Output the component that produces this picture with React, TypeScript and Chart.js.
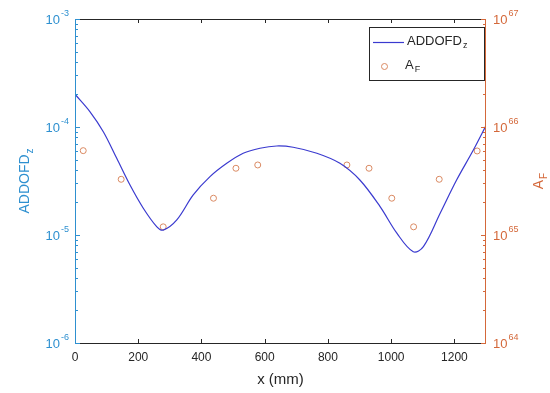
import React, { useEffect, useRef } from "react";
import { Chart, registerables } from "chart.js";
Chart.register(...registerables);

const curveX = [0, 47, 90, 132, 174, 216, 259, 279, 322, 374, 427, 480, 532, 585, 638, 690, 765, 838, 901, 965, 1018, 1070, 1102, 1155, 1207, 1260, 1300];
const curveY = [2.01e-4, 1.39e-4, 9.0e-5, 5.13e-5, 2.9e-5, 1.77e-5, 1.19e-5, 1.11e-5, 1.38e-5, 2.35e-5, 3.47e-5, 4.61e-5, 5.71e-5, 6.36e-5, 6.67e-5, 6.49e-5, 5.71e-5, 4.61e-5, 3.23e-5, 1.83e-5, 1.04e-5, 7.0e-6, 7.8e-6, 1.59e-5, 3.23e-5, 6.12e-5, 1.03e-4];
const markerX = [26, 146, 279, 438, 509, 578, 860, 930, 1002, 1071, 1152, 1272];
const markerY = [6.04e65, 3.28e65, 1.19e65, 2.19e65, 4.15e65, 4.45e65, 4.45e65, 4.15e65, 2.19e65, 1.19e65, 3.28e65, 6.0e65];
const xTicks = [0, 200, 400, 600, 800, 1000, 1200];
const leftExps = [-6, -5, -4, -3];
const rightExps = [64, 65, 66, 67];
const xTitle = "x (mm)";
const leftTitle = ["ADDOFD", "z"];
const rightTitle = ["A", "F"];
const legendLine = ["ADDOFD", "z"];
const legendMarker = ["A", "F"];

const FONT = "'Liberation Sans', Arial, Helvetica, sans-serif";
const LEFT_C = "#2E90D0";
const RIGHT_C = "#D4683A";
const AX_C = "#262626";
const LINE_C = "#3A3ACF";
const MARK_C = "#DA8A63";

function drawPow(ctx: CanvasRenderingContext2D, exp: number, x: number, y: number, align: "left" | "right", color: string) {
  ctx.save();
  ctx.fillStyle = color;
  ctx.textBaseline = "middle";
  ctx.textAlign = "left";
  ctx.font = `13px ${FONT}`;
  const wb = ctx.measureText("10").width;
  ctx.font = `9px ${FONT}`;
  const es = String(exp);
  const we = ctx.measureText(es).width;
  const x0 = align === "right" ? x - wb - we - 1 : x;
  ctx.font = `13px ${FONT}`;
  ctx.fillText("10", x0, y + 1);
  ctx.font = `9px ${FONT}`;
  ctx.fillText(es, x0 + wb + 1, y - 5);
  ctx.restore();
}

function drawSub(ctx: CanvasRenderingContext2D, parts: string[], x: number, y: number, size: number, color: string, center: boolean) {
  ctx.save();
  ctx.fillStyle = color;
  ctx.textBaseline = "middle";
  ctx.textAlign = "left";
  ctx.font = `${size}px ${FONT}`;
  const w1 = ctx.measureText(parts[0]).width;
  ctx.font = `${Math.round(size * 0.68)}px ${FONT}`;
  const w2 = ctx.measureText(parts[1]).width;
  const x0 = center ? x - (w1 + w2 + 1) / 2 : x;
  ctx.font = `${size}px ${FONT}`;
  ctx.fillText(parts[0], x0, y);
  ctx.font = `${Math.round(size * 0.68)}px ${FONT}`;
  ctx.fillText(parts[1], x0 + w1 + 1, y + size * 0.35);
  ctx.restore();
}

const axesPlugin = {
  id: "matlabAxes",
  afterDraw(chart: any) {
    const ctx: CanvasRenderingContext2D = chart.ctx;
    const { left, right, top, bottom } = chart.chartArea;
    const sx = chart.scales.x;
    const sy = chart.scales.y;
    const sy2 = chart.scales.y2;
    ctx.save();
    ctx.lineWidth = 1;
    // box
    ctx.strokeStyle = AX_C;
    ctx.beginPath();
    ctx.moveTo(left, top + 0.5);
    ctx.lineTo(right, top + 0.5);
    ctx.moveTo(left, bottom + 0.5);
    ctx.lineTo(right, bottom + 0.5);
    ctx.stroke();
    // x ticks
    ctx.beginPath();
    xTicks.forEach((v) => {
      const px = Math.round(sx.getPixelForValue(v)) + 0.5;
      ctx.moveTo(px, bottom);
      ctx.lineTo(px, bottom - 4);
      ctx.moveTo(px, top);
      ctx.lineTo(px, top + 4);
    });
    ctx.stroke();
    ctx.fillStyle = AX_C;
    ctx.font = `12px ${FONT}`;
    ctx.textAlign = "center";
    ctx.textBaseline = "middle";
    xTicks.forEach((v) => {
      ctx.fillText(String(v), sx.getPixelForValue(v), bottom + 15);
    });
    ctx.font = `15px ${FONT}`;
    ctx.fillText(xTitle, (left + right) / 2, bottom + 37);

    // left axis
    ctx.strokeStyle = LEFT_C;
    ctx.beginPath();
    ctx.moveTo(left + 0.5, top);
    ctx.lineTo(left + 0.5, bottom + 1);
    for (let e = leftExps[0]; e < leftExps[leftExps.length - 1]; e++) {
      for (let m = 2; m <= 9; m++) {
        const py = Math.round(sy.getPixelForValue(m * Math.pow(10, e))) + 0.5;
        ctx.moveTo(left, py);
        ctx.lineTo(left + 3, py);
      }
    }
    leftExps.forEach((e) => {
      const py = Math.round(sy.getPixelForValue(Math.pow(10, e))) + 0.5;
      ctx.moveTo(left, py);
      ctx.lineTo(left + 5, py);
    });
    ctx.stroke();
    leftExps.forEach((e) => {
      drawPow(ctx, e, left - 6, sy.getPixelForValue(Math.pow(10, e)), "right", LEFT_C);
    });
    ctx.save();
    ctx.translate(25, (top + bottom) / 2);
    ctx.rotate(-Math.PI / 2);
    drawSub(ctx, leftTitle, 0, 0, 14, LEFT_C, true);
    ctx.restore();

    // right axis
    ctx.strokeStyle = RIGHT_C;
    ctx.beginPath();
    ctx.moveTo(right - 0.5, top);
    ctx.lineTo(right - 0.5, bottom + 1);
    for (let e = rightExps[0]; e < rightExps[rightExps.length - 1]; e++) {
      for (let m = 2; m <= 9; m++) {
        const py = Math.round(sy2.getPixelForValue(m * Math.pow(10, e))) + 0.5;
        ctx.moveTo(right, py);
        ctx.lineTo(right - 3, py);
      }
    }
    rightExps.forEach((e) => {
      const py = Math.round(sy2.getPixelForValue(Math.pow(10, e))) + 0.5;
      ctx.moveTo(right, py);
      ctx.lineTo(right - 5, py);
    });
    ctx.stroke();
    rightExps.forEach((e) => {
      drawPow(ctx, e, right + 7, sy2.getPixelForValue(Math.pow(10, e)), "left", RIGHT_C);
    });
    ctx.save();
    ctx.translate(539, (top + bottom) / 2);
    ctx.rotate(-Math.PI / 2);
    drawSub(ctx, rightTitle, 0, 0, 14, RIGHT_C, true);
    ctx.restore();

    // legend
    const lx = 369.5, ly = 27.5, lw = 115, lh = 53;
    ctx.fillStyle = "#ffffff";
    ctx.fillRect(lx, ly, lw, lh);
    ctx.strokeStyle = AX_C;
    ctx.strokeRect(lx, ly, lw, lh);
    ctx.strokeStyle = LINE_C;
    ctx.lineWidth = 1.2;
    ctx.beginPath();
    ctx.moveTo(373, 42.5);
    ctx.lineTo(404, 42.5);
    ctx.stroke();
    drawSub(ctx, legendLine, 407, 41, 13, AX_C, false);
    ctx.strokeStyle = MARK_C;
    ctx.lineWidth = 1;
    ctx.beginPath();
    ctx.arc(384.5, 66.5, 3, 0, Math.PI * 2);
    ctx.stroke();
    drawSub(ctx, legendMarker, 405, 65, 13, AX_C, false);
    ctx.restore();
  },
};

export default function App() {
  const ref = useRef<HTMLCanvasElement>(null);
  useEffect(() => {
    document.body.style.margin = "0";
    const canvas = ref.current!;
    const chart = new Chart(canvas, {
      type: "line",
      data: {
        datasets: [
          {
            type: "line",
            label: "ADDOFDz",
            data: curveX.map((x, i) => ({ x, y: curveY[i] })),
            yAxisID: "y",
            borderColor: LINE_C,
            borderWidth: 1.2,
            pointRadius: 0,
            tension: 0.35,
            fill: false,
          },
          {
            type: "scatter",
            label: "AF",
            data: markerX.map((x, i) => ({ x, y: markerY[i] })),
            yAxisID: "y2",
            borderColor: MARK_C,
            backgroundColor: "rgba(0,0,0,0)",
            borderWidth: 1,
            pointRadius: 3,
            pointStyle: "circle",
          },
        ],
      },
      options: {
        responsive: false,
        animation: false,
        devicePixelRatio: 1,
        layout: { padding: { left: 75, right: 64, top: 19, bottom: 50 } },
        plugins: { legend: { display: false }, tooltip: { enabled: false } },
        scales: {
          x: { type: "linear", min: 0, max: 1300, display: false },
          y: { type: "logarithmic", min: 1e-6, max: 1e-3, display: false, position: "left" },
          y2: { type: "logarithmic", min: 1e64, max: 1e67, display: false, position: "right" },
        },
      },
      plugins: [axesPlugin],
    } as any);
    return () => chart.destroy();
  }, []);
  return (
    <div style={{ width: 550, height: 393, background: "#fff" }}>
      <canvas ref={ref} width={550} height={393} style={{ display: "block" }} />
    </div>
  );
}
